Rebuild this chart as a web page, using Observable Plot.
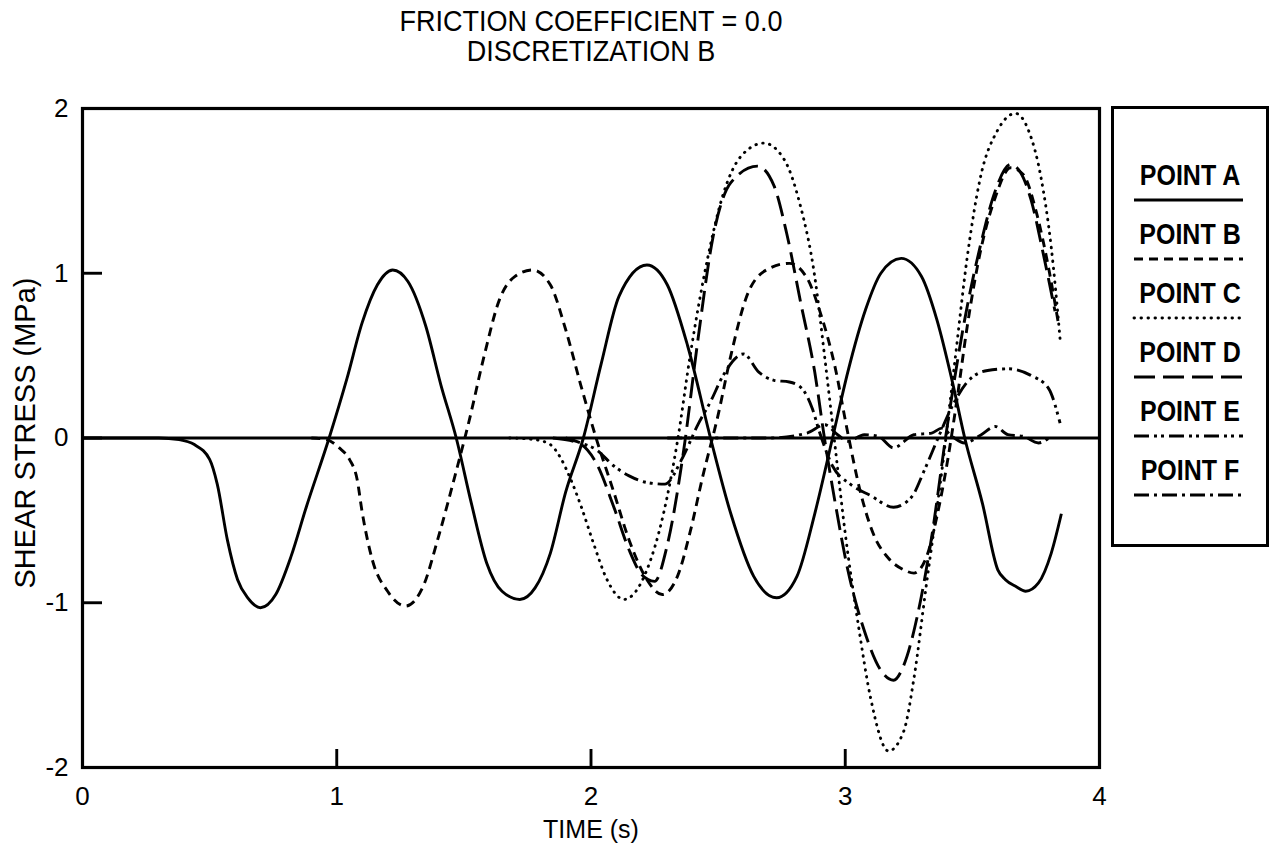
<!DOCTYPE html>
<html><head><meta charset="utf-8">
<script src="https://cdn.jsdelivr.net/npm/d3@7"></script>
<script src="https://cdn.jsdelivr.net/npm/@observablehq/plot@0.6"></script>
<style>
body{margin:0;background:#fff;}
#wrap{position:relative;width:1269px;height:859px;font-family:"Liberation Sans",Arial,Helvetica,sans-serif;color:#000;}
#chart{position:absolute;left:0;top:0;}
#title{position:absolute;left:0;top:7px;width:1182px;text-align:center;font-size:27px;line-height:27px;transform:scaleY(1.1);transform-origin:50% 0;}
#legend{position:absolute;left:1111px;top:106px;}
</style></head><body>
<div id="wrap"><div id="chart"></div><div id="title"></div><svg id="legend" width="158" height="441"></svg></div>
<script>
// ---- data (time in s, shear stress in MPa) ----
const pointA = [[0,0],[0.30,0],[0.38,-0.01],[0.44,-0.04],[0.50,-0.13],[0.53,-0.28],[0.57,-0.62],[0.61,-0.86],[0.65,-0.97],[0.70,-1.03],[0.76,-0.95],[0.82,-0.72],[0.88,-0.42],[0.97,0],[1.04,0.36],[1.10,0.70],[1.16,0.93],[1.22,1.02],[1.28,0.95],[1.35,0.68],[1.41,0.32],[1.47,0],[1.53,-0.40],[1.59,-0.76],[1.65,-0.93],[1.72,-0.98],[1.78,-0.91],[1.84,-0.70],[1.90,-0.33],[1.97,0],[2.04,0.45],[2.11,0.86],[2.22,1.05],[2.30,0.93],[2.38,0.56],[2.47,0],[2.55,-0.46],[2.64,-0.84],[2.73,-0.97],[2.81,-0.84],[2.88,-0.46],[2.95,0],[3.01,0.40],[3.08,0.78],[3.14,1.0],[3.22,1.09],[3.30,0.98],[3.36,0.72],[3.42,0.35],[3.47,0],[3.54,-0.40],[3.60,-0.80],[3.63,-0.86],[3.67,-0.90],[3.71,-0.93],[3.76,-0.88],[3.81,-0.70],[3.85,-0.46]];
const pointB = [[0.90,0],[0.96,-0.01],[1.01,-0.06],[1.05,-0.13],[1.08,-0.25],[1.10,-0.45],[1.14,-0.74],[1.20,-0.93],[1.27,-1.02],[1.34,-0.90],[1.40,-0.60],[1.47,-0.20],[1.52,0.10],[1.58,0.50],[1.64,0.84],[1.70,0.98],[1.77,1.02],[1.84,0.93],[1.90,0.66],[1.96,0.32],[2.02,0],[2.09,-0.33],[2.15,-0.62],[2.22,-0.86],[2.28,-0.95],[2.34,-0.84],[2.39,-0.57],[2.44,-0.23],[2.50,0.14],[2.55,0.50],[2.61,0.85],[2.69,1.02],[2.78,1.06],[2.85,0.97],[2.90,0.77],[2.96,0.43],[3.01,0.03],[3.06,-0.33],[3.11,-0.58],[3.17,-0.73],[3.23,-0.80],[3.27,-0.82],[3.32,-0.72],[3.36,-0.48],[3.40,-0.16],[3.44,0.24],[3.48,0.68],[3.53,1.12],[3.59,1.46],[3.65,1.64],[3.70,1.60],[3.75,1.38],[3.80,1.03],[3.84,0.68]];
const pointC = [[1.68,0],[1.78,-0.01],[1.84,-0.04],[1.88,-0.12],[1.92,-0.25],[1.96,-0.41],[2.01,-0.64],[2.06,-0.85],[2.13,-0.98],[2.22,-0.80],[2.285,-0.46],[2.34,-0.02],[2.39,0.50],[2.46,1.10],[2.52,1.48],[2.59,1.71],[2.68,1.79],[2.76,1.69],[2.82,1.43],[2.88,0.98],[2.92,0.48],[2.96,-0.05],[3.00,-0.58],[3.05,-1.12],[3.10,-1.58],[3.17,-1.90],[3.23,-1.78],[3.27,-1.46],[3.32,-0.88],[3.38,-0.20],[3.43,0.45],[3.48,1.10],[3.53,1.57],[3.60,1.87],[3.67,1.97],[3.72,1.87],[3.77,1.58],[3.81,1.16],[3.845,0.60]];
const pointD = [[1.85,0],[1.95,-0.03],[2.02,-0.15],[2.09,-0.42],[2.15,-0.68],[2.20,-0.83],[2.25,-0.87],[2.30,-0.65],[2.365,-0.07],[2.42,0.59],[2.48,1.22],[2.55,1.55],[2.655,1.65],[2.72,1.53],[2.77,1.24],[2.825,0.82],[2.88,0.40],[2.92,-0.02],[2.96,-0.39],[3.01,-0.80],[3.075,-1.17],[3.14,-1.41],[3.19,-1.47],[3.23,-1.38],[3.285,-1.07],[3.34,-0.60],[3.40,0.06],[3.47,0.72],[3.535,1.19],[3.59,1.50],[3.65,1.66],[3.69,1.61],[3.73,1.45],[3.78,1.11],[3.825,0.77]];
const pointE = [[1.90,0],[1.96,-0.03],[2.02,-0.07],[2.09,-0.17],[2.15,-0.23],[2.22,-0.27],[2.29,-0.28],[2.36,-0.12],[2.42,0.08],[2.47,0.22],[2.52,0.38],[2.60,0.51],[2.66,0.40],[2.72,0.35],[2.78,0.34],[2.83,0.30],[2.87,0.18],[2.90,0.03],[2.95,-0.17],[3.02,-0.28],[3.10,-0.35],[3.19,-0.42],[3.26,-0.36],[3.31,-0.20],[3.365,0.0],[3.42,0.19],[3.48,0.34],[3.56,0.41],[3.64,0.42],[3.73,0.38],[3.80,0.30],[3.845,0.09]];
const pointF = [[2.30,0],[2.50,0],[2.70,0],[2.85,0.03],[2.92,0.08],[2.97,0.02],[3.01,-0.02],[3.075,0.02],[3.13,0.01],[3.19,-0.06],[3.27,0.02],[3.34,0.03],[3.38,0.06],[3.42,0.01],[3.47,-0.03],[3.535,0.02],[3.59,0.07],[3.64,0.02],[3.70,0.01],[3.76,-0.03],[3.81,0.01]];

const seriesNames = ["POINT A","POINT B","POINT C","POINT D","POINT E","POINT F"];
const seriesValues = [pointA, pointB, pointC, pointD, pointE, pointF];
const xTicks = [0,1,2,3,4];
const yTicks = [-2,-1,0,1,2];
const xInnerTicks = [1,2,3];
const yInnerTicks = [-1,0,1];
const titleLines = ["FRICTION COEFFICIENT = 0.0","DISCRETIZATION B"];
const xLabel = "TIME (s)";
const yLabel = "SHEAR STRESS (MPa)";

// ---- styles ----
const FONT = '"Liberation Sans", Arial, Helvetica, sans-serif';
const dashStyles = [
  {dash: null, cap: "butt"},
  {dash: "9,6", cap: "butt"},
  {dash: "0.5,6.5", cap: "round"},
  {dash: "21,8", cap: "butt"},
  {dash: "15,5,3,4,3,5", cap: "butt"},
  {dash: "15,5,3,5", cap: "butt"}
];
const LW = 2.9;

const W = 1269, H = 859;
const mL = 82, mR = 170, mT = 108, mB = 92;
const innerW = W - mL - mR, innerH = H - mT - mB;

const rows = [];
seriesNames.forEach((name, i) => seriesValues[i].forEach(([t, v]) => rows.push({series: name, idx: i, t, v})));

const lineMarks = seriesNames.map((name, i) =>
  Plot.line(rows.filter(r => r.idx === i), {
    x: "t", y: "v", stroke: "black", strokeWidth: LW,
    strokeDasharray: dashStyles[i].dash || undefined,
    strokeLinecap: dashStyles[i].cap,
    curve: "monotone-x"
  })
);

const fmt = d => String(d);

const chart = Plot.plot({
  width: W, height: H,
  marginLeft: mL, marginRight: mR, marginTop: mT, marginBottom: mB,
  style: {fontFamily: FONT, fontSize: "26px", background: "white", color: "black", overflow: "visible"},
  x: {domain: [0, 4]},
  y: {domain: [-2, 2]},
  marks: [
    Plot.ruleY([0], {stroke: "black", strokeWidth: LW}),
    ...lineMarks,
    Plot.tickY(yInnerTicks, {y: d => d, stroke: "black", strokeWidth: LW, insetRight: innerW - 20}),
    Plot.tickX(xInnerTicks, {x: d => d, stroke: "black", strokeWidth: LW, insetTop: innerH - 18}),
    Plot.frame({stroke: "black", strokeWidth: 3.2}),
    Plot.axisX({ticks: xTicks, tickSize: 0, tickPadding: 19, tickFormat: fmt, label: null, fontSize: 26}),
    Plot.axisY({ticks: yTicks, tickSize: 0, tickPadding: 14, tickFormat: fmt, label: null, fontSize: 26}),
    Plot.text([xLabel], {text: d => d, frameAnchor: "bottom", dy: 70, fontSize: 25, fill: "black"}),
    Plot.text([yLabel], {text: d => d, frameAnchor: "left", textAnchor: "middle", dx: -57, dy: -5, rotate: -90, fontSize: 29, fill: "black"})
  ]
});
document.getElementById("chart").appendChild(chart);

document.getElementById("title").innerHTML = titleLines.join("<br>");

// ---- legend ----
const lg = d3.select("#legend");
lg.append("rect").attr("x", 1.5).attr("y", 1.5).attr("width", 155).attr("height", 438)
  .attr("fill", "white").attr("stroke", "black").attr("stroke-width", 3);
seriesNames.forEach((name, i) => {
  const cy = 71 + i * 59;
  lg.append("text").attr("transform", `translate(79,${cy}) scale(1,1.15)`).attr("text-anchor", "middle")
    .attr("dominant-baseline", "middle")
    .attr("font-family", FONT).attr("font-size", 25).attr("font-weight", "bold")
    .text(name);
  lg.append("line").attr("x1", 23).attr("x2", 132).attr("y1", cy + 23).attr("y2", cy + 23)
    .attr("stroke", "black").attr("stroke-width", LW)
    .attr("stroke-dasharray", dashStyles[i].dash)
    .attr("stroke-linecap", dashStyles[i].cap);
});
</script>
</body></html>
